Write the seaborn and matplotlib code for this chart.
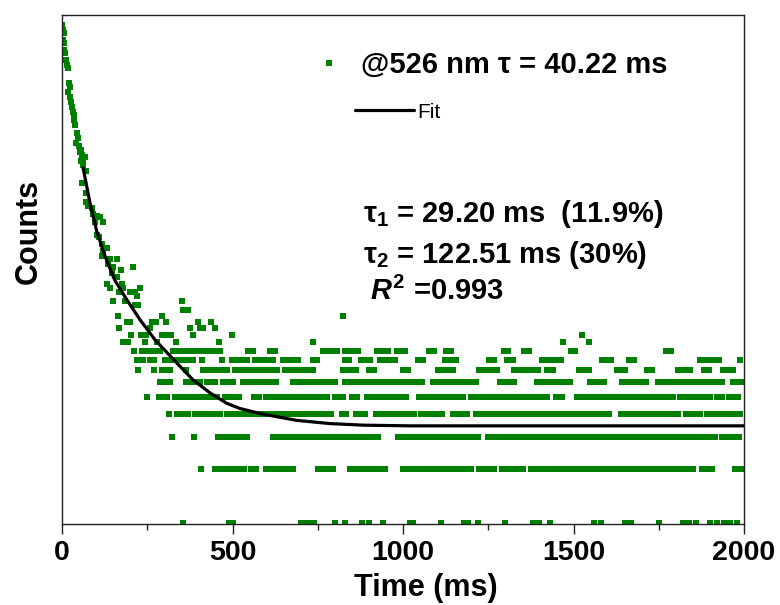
import matplotlib
matplotlib.use("Agg")
import matplotlib.pyplot as plt
import pandas as pd
import seaborn as sns
from matplotlib import font_manager
from matplotlib.font_manager import FontProperties
from matplotlib.lines import Line2D
from matplotlib.ticker import MultipleLocator, NullLocator, FixedLocator

# ---------------- data ----------------
# early decay region: time (ms) and counts
decay_t = [1, 4, 6, 4, 7, 7, 9, 11, 14, 17, 21, 22, 19, 24, 26, 30, 32, 34, 36, 38,
           44, 48, 42, 50, 56, 60, 67, 56, 63, 69, 58,
           53, 58, 63, 61, 69, 70, 77, 87, 92, 102, 97, 111, 119, 102, 109, 116, 121, 131, 116, 141,
           162, 136, 150, 173, 209, 146, 160, 131, 141, 175, 180, 168, 200, 214, 229, 219,
           150, 185, 214, 224, 351, 356, 370, 165, 292, 200, 263, 277, 306, 190, 400, 436,
           168, 258, 375, 405, 414, 449, 825]
decay_counts = [568, 533, 511, 469, 450, 413, 396, 364, 341, 327, 270, 259, 241, 228, 214, 201, 188, 181, 170, 159,
                143, 134, 126, 121, 116, 109, 106, 100, 96, 88, 76,
                113, 106, 102, 76, 67, 60, 57, 55, 51, 50, 46, 49, 46, 39, 38, 35, 32, 33, 30, 29,
                29, 27, 26, 25, 26, 24, 23, 21, 20, 21, 20, 19, 19, 19, 20, 18,
                17, 17, 16, 16, 17, 15, 15, 14, 14, 13, 13, 13, 13, 13, 13, 13,
                12, 12, 12, 12, 12, 12, 14]

# low-count region: times (ms) at which each discrete count level occurs
lvl2_t = [408, 449, 463, 477, 491, 505, 519, 533, 555, 568, 598, 612, 626, 640, 654, 666, 678,
          752, 766, 780, 795, 845, 858, 871, 885, 898, 913, 924, 936, 947,
          1001, 1015, 1030, 1045, 1058, 1072, 1086, 1100, 1114, 1128, 1142, 1156, 1170, 1184, 1198,
          1224, 1238, 1252, 1266, 1290, 1302, 1315, 1327, 1340, 1353, 1375, 1389, 1402, 1416,
          1429, 1443, 1457, 1471, 1485, 1499, 1513, 1532, 1546, 1560, 1574, 1588,
          1600, 1614, 1628, 1642, 1656, 1670, 1684, 1698, 1712, 1726,
          1740, 1754, 1768, 1782, 1796, 1810, 1822, 1836, 1850, 1878, 1892, 1905, 1975, 1990]
lvl3_t = [322, 388, 458, 472, 486, 500, 514, 528, 542, 618, 631, 644, 661, 675, 688,
          708, 722, 736, 750, 764, 778, 792, 806, 820, 834, 848, 862, 876, 890, 904, 918, 928,
          986, 1000, 1014, 1028, 1042, 1055, 1067, 1081, 1095, 1109, 1123, 1137, 1151, 1165, 1179,
          1193, 1207, 1221, 1250, 1265, 1280, 1289, 1304, 1319, 1333, 1347, 1361, 1375, 1389,
          1403, 1417, 1431, 1445, 1459, 1473, 1487, 1501, 1515, 1529, 1543, 1557, 1571, 1585,
          1599, 1613, 1627, 1641, 1655, 1669, 1683, 1698, 1708, 1722, 1736, 1750, 1766, 1778,
          1786, 1800, 1815, 1830, 1845, 1858, 1872, 1886, 1900, 1914, 1935, 1950, 1969, 1984]
lvl4_t = [315, 336, 348, 360, 370, 390, 402, 414, 426, 438, 450, 463, 483, 497, 511, 525, 539,
          553, 567, 581, 595, 609, 623, 637, 651, 665, 679, 693, 707, 721, 735, 749, 761, 775, 789,
          820, 834, 862, 876, 890, 921, 935, 949, 963, 977, 991, 1005, 1019, 1033, 1053, 1065,
          1077, 1089, 1099, 1113, 1148, 1161, 1174, 1187, 1214, 1227, 1240, 1253, 1266, 1279,
          1292, 1302, 1316, 1330, 1344, 1358, 1372, 1386, 1400, 1414, 1426, 1436, 1450, 1464,
          1478, 1492, 1506, 1520, 1534, 1548, 1562, 1576, 1590, 1604, 1639, 1653, 1667, 1681,
          1695, 1709, 1723, 1737, 1751, 1765, 1779, 1793, 1807, 1829, 1843, 1856, 1870, 1891,
          1905, 1919, 1933, 1947, 1961, 1975, 1989]
lvl5_t = [250, 283, 296, 309, 331, 345, 359, 373, 387, 401, 415, 429, 443, 454, 478, 492, 506, 520,
          563, 577, 598, 612, 626, 640, 654, 668, 682, 696, 710, 725, 735, 749, 763, 776, 801, 814,
          825, 850, 866, 895, 909, 923, 937, 951, 965, 981, 995, 1009, 1048, 1062, 1076, 1090,
          1104, 1118, 1132, 1146, 1160, 1175, 1198, 1212, 1226, 1240, 1254, 1268, 1282, 1296,
          1310, 1324, 1338, 1352, 1366, 1382, 1397, 1410, 1421, 1449, 1465, 1509, 1524, 1539,
          1551, 1565, 1579, 1593, 1607, 1621, 1635, 1649, 1663, 1677, 1688, 1705, 1719, 1733,
          1747, 1761, 1775, 1793, 1812, 1826, 1840, 1854, 1868, 1882, 1900, 1920, 1936, 1957,
          1970, 1981]
lvl6_t = [287, 302, 317, 364, 378, 392, 405, 424, 437, 449, 473, 487, 501, 530, 544, 558, 572,
          586, 600, 614, 628, 678, 692, 706, 718, 732, 746, 760, 774, 788, 801, 830, 844, 858,
          872, 889, 903, 917, 931, 945, 959, 973, 987, 1001, 1015, 1029, 1043, 1057, 1087, 1101,
          1115, 1129, 1143, 1157, 1171, 1185, 1199, 1213, 1283, 1297, 1311, 1325, 1392, 1406,
          1420, 1434, 1448, 1462, 1476, 1490, 1548, 1562, 1576, 1590, 1643, 1657, 1671, 1685,
          1700, 1714, 1747, 1761, 1775, 1789, 1803, 1817, 1831, 1845, 1859, 1871, 1881, 1895,
          1909, 1923, 1935, 1969, 1983, 1997]
lvl7_t = [224, 271, 292, 305, 317, 364, 414, 428, 442, 456, 470, 483, 507, 521, 535, 549, 563,
          577, 591, 605, 619, 630, 654, 668, 683, 698, 712, 726, 737, 823, 836, 849, 862, 901,
          916, 1001, 1016, 1104, 1118, 1132, 1146, 1224, 1238, 1252, 1266, 1277, 1325, 1339,
          1353, 1367, 1381, 1395, 1423, 1441, 1516, 1531, 1545, 1627, 1640, 1651, 1717, 1731,
          1805, 1818, 1831, 1842, 1884, 1897, 1937, 1952, 1967]
lvl8_t = [219, 238, 258, 271, 302, 316, 330, 344, 358, 372, 385, 410, 470, 498, 512, 527, 542,
          566, 580, 594, 608, 620, 647, 659, 678, 691, 735, 747, 830, 843, 876, 890, 903, 933,
          947, 962, 977, 1045, 1058, 1123, 1139, 1155, 1253, 1267, 1306, 1322, 1407, 1421,
          1439, 1451, 1462, 1583, 1597, 1610, 1663, 1678, 1871, 1885, 1899, 1913, 1927, 1988]
lvl9_t = [211, 234, 248, 262, 276, 287, 326, 340, 354, 368, 380, 397, 414, 428, 442, 456, 463,
          546, 559, 610, 625, 766, 780, 794, 807, 830, 843, 856, 869, 923, 935, 947, 957, 981,
          994, 1006, 1077, 1091, 1126, 1140, 1296, 1309, 1355, 1370, 1492, 1504, 1770, 1786]
lvl10_t = [180, 194, 243, 278, 334, 461, 737, 1470, 1545]
lvl11_t = [202, 232, 246, 292, 306, 320, 385, 498, 1526]
lvl1_t = [354, 490, 500, 702, 712, 722, 740, 800, 830, 880, 900, 940, 1020, 1030, 1110, 1180,
          1190, 1220, 1300, 1380, 1400, 1430, 1560, 1580, 1650, 1670, 1750, 1820, 1840, 1860,
          1900, 1920, 1940, 1960, 1980]

level_counts = [1, 2, 3, 4, 5, 6, 7, 8, 9, 10, 11]
level_times = [lvl1_t, lvl2_t, lvl3_t, lvl4_t, lvl5_t, lvl6_t, lvl7_t, lvl8_t, lvl9_t, lvl10_t, lvl11_t]

# fitted curve
fit_t = [62, 82, 102, 126, 155, 190, 229, 273, 336, 384, 434, 483, 522, 590, 688, 786, 884, 1021, 1500, 2000]
fit_counts = [92, 59, 41, 30, 22, 17.2, 13.3, 10.3, 7.7, 6.2, 5.25, 4.6, 4.3, 4.0, 3.7, 3.55, 3.48, 3.45, 3.45, 3.45]

x_ticks = [0, 500, 1000, 1500, 2000]

legend_label = "@526 nm \u03c4 = 40.22 ms"
fit_label = "Fit"
txt_tau1 = "\u03c4$_{\\mathrm{1}}$ = 29.20 ms  (11.9%)"
txt_tau2 = "\u03c4$_{\\mathrm{2}}$ = 122.51 ms (30%)"
txt_r2 = "$R^{\\mathrm{2}}$ =0.993"

# ---------------- build table ----------------
rows_t = list(decay_t)
rows_c = list(decay_counts)
for c, ts in zip(level_counts, level_times):
    rows_t.extend(ts)
    rows_c.extend([c] * len(ts))
df = pd.DataFrame({"Time": rows_t, "Counts": rows_c})
fit_df = pd.DataFrame({"Time": fit_t, "Counts": fit_counts})

# ---------------- style ----------------
sns.set_theme(style="white")
plt.rcParams["font.family"] = ["Liberation Sans", "DejaVu Sans"]
plt.rcParams["text.color"] = "black"
plt.rcParams["axes.labelcolor"] = "black"
plt.rcParams["xtick.color"] = "black"
plt.rcParams["mathtext.fontset"] = "custom"
plt.rcParams["mathtext.rm"] = "Liberation Sans:bold"
plt.rcParams["mathtext.it"] = "Liberation Sans:bold:italic"
plt.rcParams["mathtext.bf"] = "Liberation Sans:bold"

names = {f.name for f in font_manager.fontManager.ttflist}
tick_family = "Liberation Sans Narrow" if "Liberation Sans Narrow" in names else "Liberation Sans"

GREEN = "#008000"

fig = plt.figure(figsize=(7.8, 6.05), dpi=100)
ax = fig.add_axes([62 / 780, (605 - 523.5) / 605, (744 - 62) / 780, (523.5 - 15) / 605])
ax.set_yscale("log")

sns.scatterplot(data=df, x="Time", y="Counts", marker="s", s=19, color=GREEN,
                linewidth=0, ax=ax, legend=False, zorder=2)
sns.lineplot(data=fit_df, x="Time", y="Counts", color="black", linewidth=2.3,
             ax=ax, sort=False, estimator=None, zorder=3)

ax.set_xlim(0, 2000)
ax.set_ylim(0.995, 645)

ax.yaxis.set_major_locator(NullLocator())
ax.yaxis.set_minor_locator(NullLocator())
ax.xaxis.set_major_locator(FixedLocator(x_ticks))
ax.xaxis.set_minor_locator(MultipleLocator(250))
ax.tick_params(axis="x", which="major", direction="out", length=7.2, width=1.0,
               color="#222222", pad=5, bottom=True, top=False, labelcolor="black")
ax.tick_params(axis="x", which="minor", direction="out", length=4.1, width=1.0,
               color="#222222", bottom=True, top=False)
ax.tick_params(axis="y", left=False, right=False)

tick_fp = FontProperties(family=tick_family, weight="bold", size=20.5)
for lab in ax.get_xticklabels():
    lab.set_fontproperties(tick_fp)
    lab.set_color("black")

for sp in ax.spines.values():
    sp.set_visible(True)
    sp.set_color("#222222")
    sp.set_linewidth(1.0)

ax.set_xlabel("Time (ms)", fontsize=22, fontweight="bold", color="black")
ax.set_ylabel("Counts", fontsize=22, fontweight="bold", color="black")
ax.xaxis.set_label_coords((425 - 62) / 681, -0.097)
ax.yaxis.set_label_coords(-0.027, 0.574)

# legends
h1 = Line2D([], [], marker="s", linestyle="none", color=GREEN, markersize=3.8, markeredgewidth=0)
leg1 = ax.legend(handles=[h1], labels=[legend_label], loc="center left",
                 bbox_to_anchor=((315 - 62) / 681, (523.5 - 65) / 508.5),
                 frameon=False, handlelength=0.95, handletextpad=0.62, borderpad=0,
                 borderaxespad=0, labelcolor="black",
                 prop=FontProperties(family="Liberation Sans", weight="bold", size=21))
ax.add_artist(leg1)
h2 = Line2D([], [], color="black", linewidth=2.3)
ax.legend(handles=[h2], labels=[fit_label], loc="center left",
          bbox_to_anchor=((355 - 62) / 681, (523.5 - 112) / 508.5),
          frameon=False, handlelength=2.79, handletextpad=0.19, borderpad=0,
          borderaxespad=0, labelcolor="black",
          prop=FontProperties(family="Liberation Sans", size=15))

tfp = dict(fontsize=21, fontweight="bold", color="black", transform=ax.transAxes,
           ha="left", va="baseline")
ax.text((363 - 62) / 681, (523.5 - 221.7) / 508.5, txt_tau1, **tfp)
ax.text((363 - 62) / 681, (523.5 - 263.3) / 508.5, txt_tau2, **tfp)
ax.text((370 - 62) / 681, (523.5 - 300) / 508.5, txt_r2, **tfp)

fig.savefig("out.png", dpi=100, facecolor="white")
